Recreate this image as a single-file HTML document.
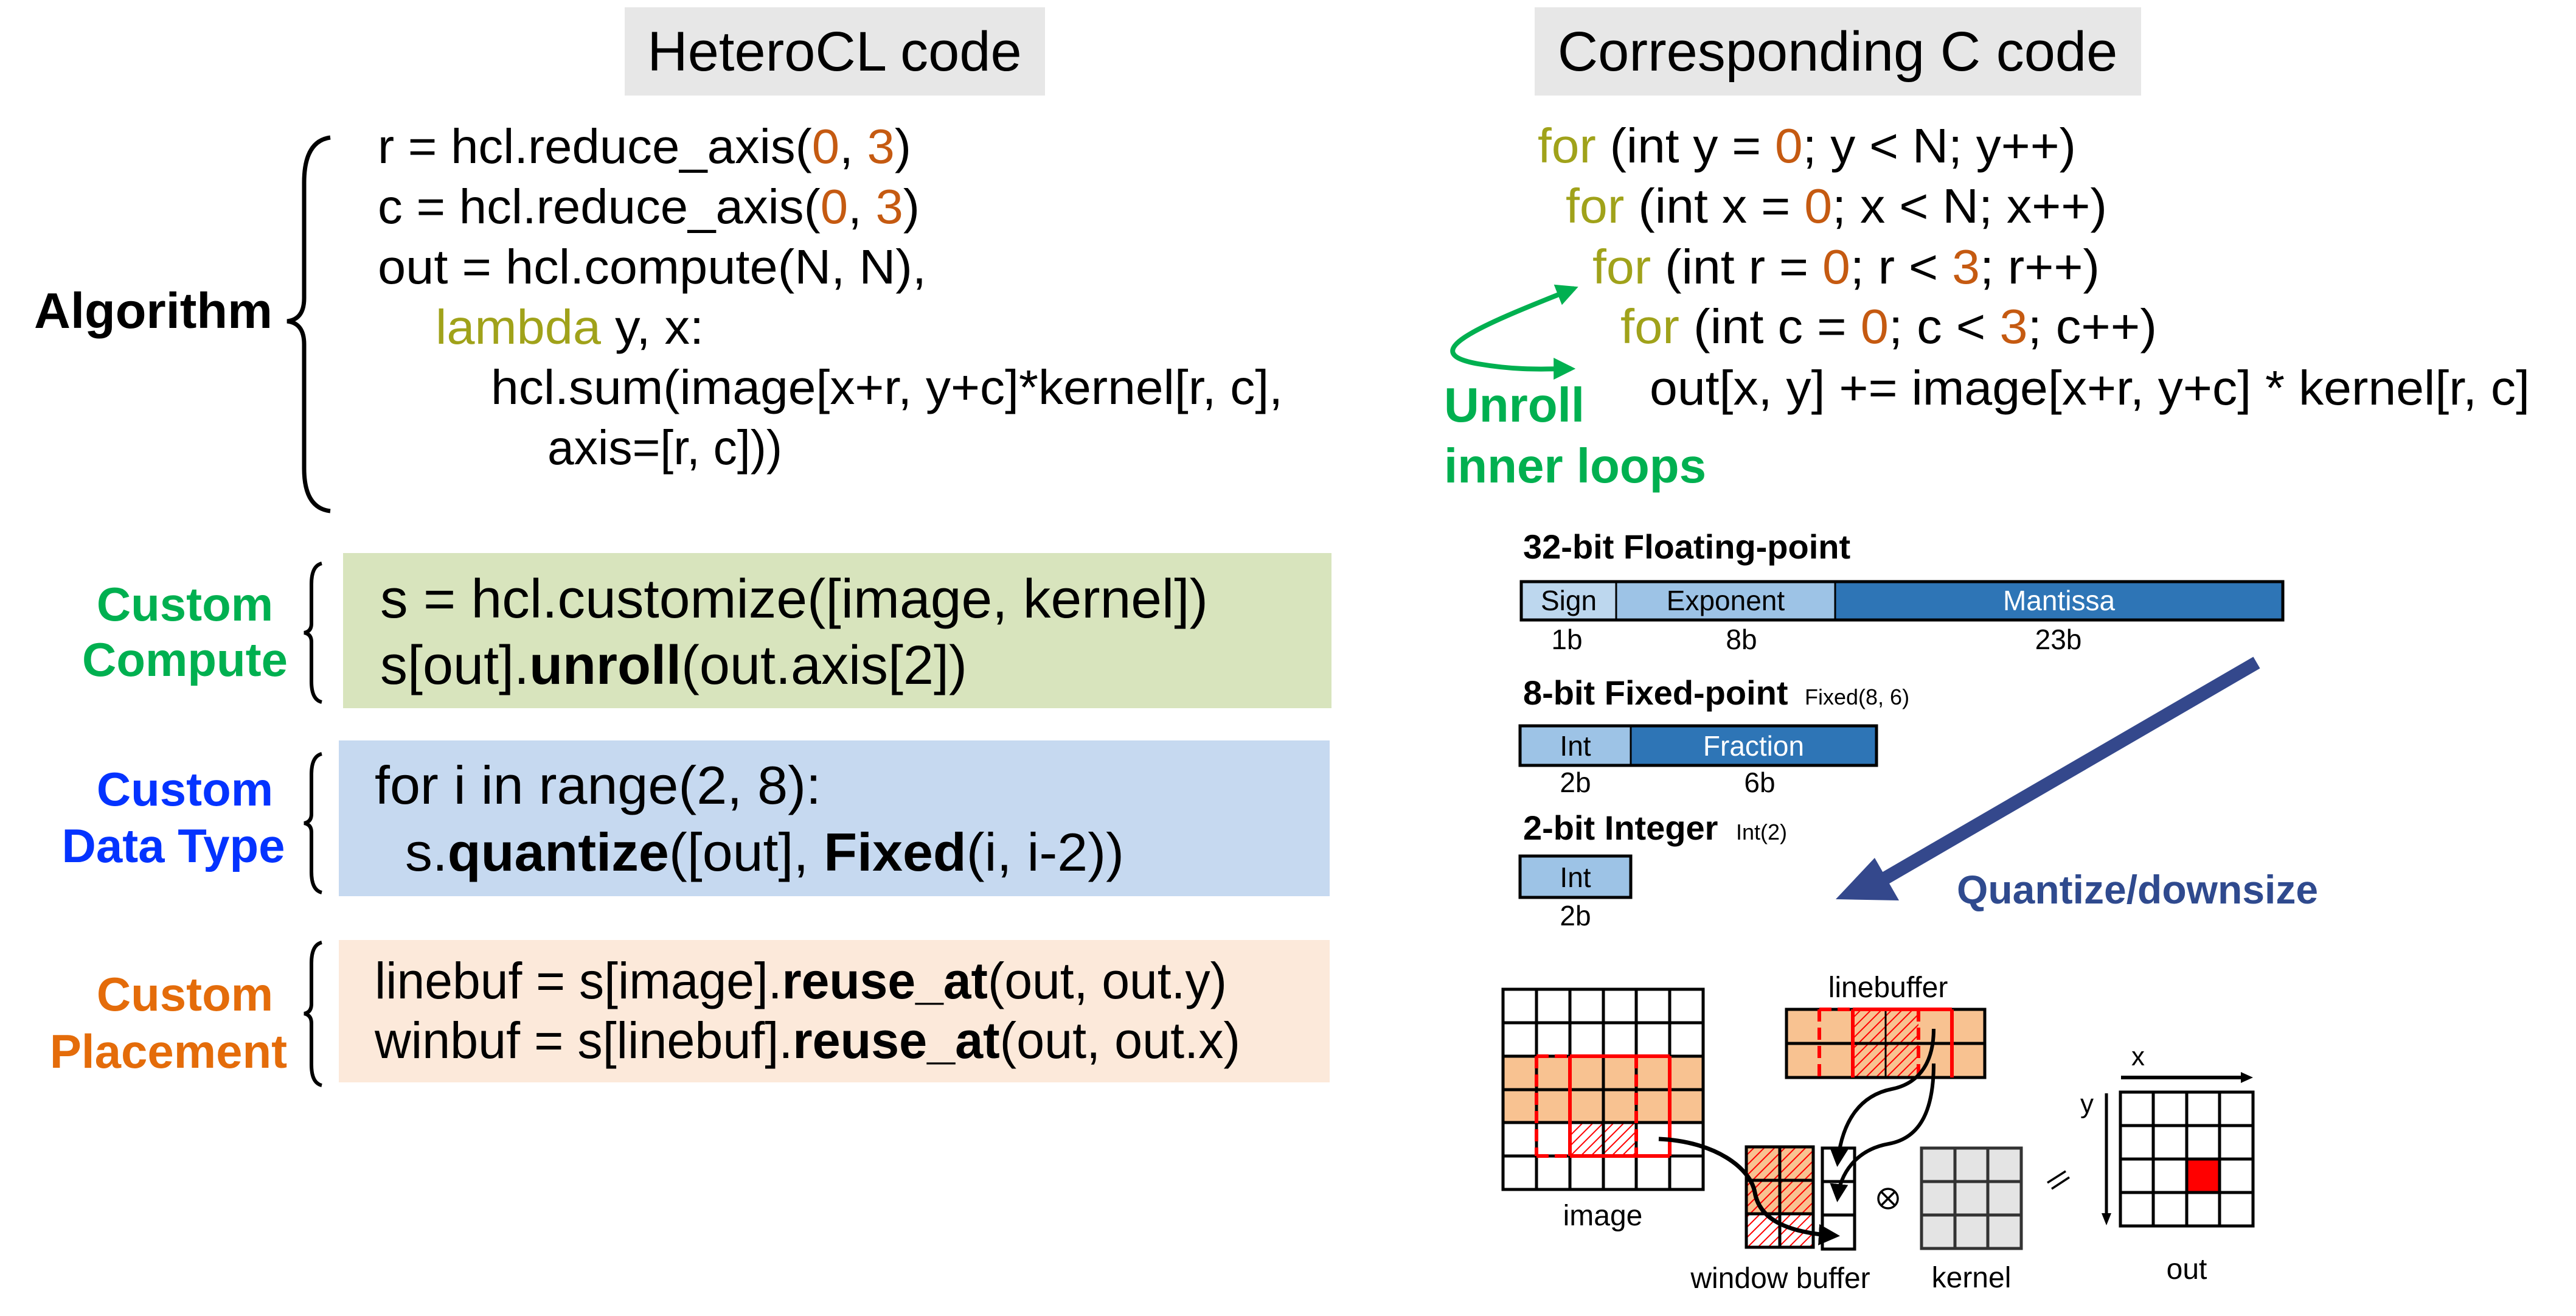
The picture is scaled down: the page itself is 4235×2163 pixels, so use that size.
<!DOCTYPE html>
<html><head><meta charset="utf-8"><style>
html,body{margin:0;padding:0;background:#fff;}
svg{display:block;}
text{font-family:"Liberation Sans",Arial,sans-serif;}
</style></head><body>
<svg width="4235" height="2163" viewBox="0 0 4235 2163" xmlns="http://www.w3.org/2000/svg">
<defs>
<pattern id="hatch" patternUnits="userSpaceOnUse" width="12" height="12" patternTransform="rotate(45)">
<rect width="12" height="12" fill="none"/>
<line x1="0" y1="0" x2="0" y2="12" stroke="#ff0000" stroke-width="4"/>
</pattern>
<marker id="ah" viewBox="0 0 10 10" refX="8" refY="5" markerWidth="5" markerHeight="5" orient="auto-start-reverse" markerUnits="strokeWidth">
<path d="M0,0 L10,5 L0,10 z" fill="#000"/>
</marker>
<marker id="gh" viewBox="0 0 10 10" refX="8" refY="5" markerWidth="4.5" markerHeight="4.5" orient="auto-start-reverse" markerUnits="strokeWidth">
<path d="M0,0 L10,5 L0,10 z" fill="#00b050"/>
</marker>
</defs>

<!-- headers -->
<rect x="1027" y="12" width="691" height="145" fill="#e7e7e7"/>
<text x="1372" y="116" font-size="92" text-anchor="middle">HeteroCL code</text>
<rect x="2523" y="12" width="997" height="145" fill="#e7e7e7"/>
<text x="3021" y="116" font-size="92" text-anchor="middle">Corresponding C code</text>

<!-- Algorithm -->
<text x="56" y="539" font-size="83" font-weight="bold">Algorithm</text>
<path d="M543,226 Q500,232 500,300 L500,490 Q500,525 472,528 Q500,531 500,566 L500,770 Q500,835 543,840" fill="none" stroke="#000" stroke-width="7"/>
<g font-size="80" xml:space="preserve" lengthAdjust="spacingAndGlyphs">
<text x="621" y="268" textLength="877" lengthAdjust="spacingAndGlyphs">r = hcl.reduce_axis(<tspan fill="#c55a11">0</tspan>, <tspan fill="#c55a11">3</tspan>)</text>
<text x="621" y="367" textLength="891" lengthAdjust="spacingAndGlyphs">c = hcl.reduce_axis(<tspan fill="#c55a11">0</tspan>, <tspan fill="#c55a11">3</tspan>)</text>
<text x="621" y="466" textLength="902" lengthAdjust="spacingAndGlyphs">out = hcl.compute(N, N),</text>
<text x="716" y="565" textLength="441" lengthAdjust="spacingAndGlyphs"><tspan fill="#a0a21a">lambda</tspan> y, x:</text>
<text x="807" y="664" textLength="1302" lengthAdjust="spacingAndGlyphs">hcl.sum(image[x+r, y+c]*kernel[r, c],</text>
<text x="900" y="763" textLength="386" lengthAdjust="spacingAndGlyphs">axis=[r, c]))</text>
</g>

<!-- Custom compute -->
<rect x="564" y="909" width="1625" height="255" fill="#d8e4bd"/>
<text x="304" y="1020" font-size="78" font-weight="bold" fill="#00b050" text-anchor="middle">Custom</text>
<text x="304" y="1111" font-size="78" font-weight="bold" fill="#00b050" text-anchor="middle">Compute</text>
<path d="M529,926 Q512,930 512,960 L512,1025 Q512,1038 500,1040 Q512,1042 512,1055 L512,1120 Q512,1150 529,1154" fill="none" stroke="#000" stroke-width="6"/>
<g font-size="90" xml:space="preserve">
<text x="625" y="1015" textLength="1361" lengthAdjust="spacingAndGlyphs">s = hcl.customize([image, kernel])</text>
<text x="625" y="1124" textLength="965" lengthAdjust="spacingAndGlyphs">s[out].<tspan font-weight="bold">unroll</tspan>(out.axis[2])</text>
</g>

<!-- Custom data type -->
<rect x="557" y="1217" width="1629" height="256" fill="#c6d9f0"/>
<text x="304" y="1324" font-size="78" font-weight="bold" fill="#0433ff" text-anchor="middle">Custom</text>
<text x="285" y="1417" font-size="78" font-weight="bold" fill="#0433ff" text-anchor="middle">Data Type</text>
<path d="M529,1239 Q512,1243 512,1273 L512,1338 Q512,1351 500,1353 Q512,1355 512,1368 L512,1433 Q512,1463 529,1467" fill="none" stroke="#000" stroke-width="6"/>
<g font-size="88" xml:space="preserve">
<text x="616" y="1321" textLength="734" lengthAdjust="spacingAndGlyphs">for i in range(2, 8):</text>
<text x="666" y="1431" textLength="1182" lengthAdjust="spacingAndGlyphs">s.<tspan font-weight="bold">quantize</tspan>([out], <tspan font-weight="bold">Fixed</tspan>(i, i-2))</text>
</g>

<!-- Custom placement -->
<rect x="557" y="1545" width="1629" height="234" fill="#fce9da"/>
<text x="304" y="1661" font-size="78" font-weight="bold" fill="#e46c0a" text-anchor="middle">Custom</text>
<text x="277" y="1755" font-size="78" font-weight="bold" fill="#e46c0a" text-anchor="middle">Placement</text>
<path d="M529,1549 Q512,1553 512,1583 L512,1650 Q512,1664 500,1666 Q512,1668 512,1682 L512,1750 Q512,1780 529,1784" fill="none" stroke="#000" stroke-width="6"/>
<g font-size="84" xml:space="preserve">
<text x="616" y="1641" textLength="1401" lengthAdjust="spacingAndGlyphs">linebuf = s[image].<tspan font-weight="bold">reuse_at</tspan>(out, out.y)</text>
<text x="616" y="1739" textLength="1423" lengthAdjust="spacingAndGlyphs">winbuf = s[linebuf].<tspan font-weight="bold">reuse_at</tspan>(out, out.x)</text>
</g>

<!-- C code -->
<g font-size="80" xml:space="preserve">
<text x="2528" y="267" textLength="885" lengthAdjust="spacingAndGlyphs"><tspan fill="#a0a21a">for</tspan> (int y = <tspan fill="#c55a11">0</tspan>; y &lt; N; y++)</text>
<text x="2574" y="366" textLength="890" lengthAdjust="spacingAndGlyphs"><tspan fill="#a0a21a">for</tspan> (int x = <tspan fill="#c55a11">0</tspan>; x &lt; N; x++)</text>
<text x="2618" y="466" textLength="834" lengthAdjust="spacingAndGlyphs"><tspan fill="#a0a21a">for</tspan> (int r = <tspan fill="#c55a11">0</tspan>; r &lt; <tspan fill="#c55a11">3</tspan>; r++)</text>
<text x="2664" y="564" textLength="882" lengthAdjust="spacingAndGlyphs"><tspan fill="#a0a21a">for</tspan> (int c = <tspan fill="#c55a11">0</tspan>; c &lt; <tspan fill="#c55a11">3</tspan>; c++)</text>
<text x="2712" y="665" textLength="1447" lengthAdjust="spacingAndGlyphs">out[x, y] += image[x+r, y+c] * kernel[r, c]</text>
</g>
<text x="2374" y="693" font-size="80" font-weight="bold" fill="#00b050">Unroll</text>
<text x="2374" y="793" font-size="80" font-weight="bold" fill="#00b050">inner loops</text>
<path d="M2588,474 C2420,540 2330,580 2430,598 C2500,610 2545,606 2583,606" fill="none" stroke="#00b050" stroke-width="8" marker-start="url(#gh)" marker-end="url(#gh)"/>

<!-- bit formats -->
<text x="2504" y="918" font-size="56" font-weight="bold">32-bit Floating-point</text>
<rect x="2501" y="956" width="156" height="63" fill="#bdd7ee"/>
<rect x="2657" y="956" width="360" height="63" fill="#9dc3e6"/>
<rect x="3017" y="956" width="736" height="63" fill="#2e75b6"/>
<rect x="2501" y="956" width="1252" height="63" fill="none" stroke="#000" stroke-width="5"/>
<line x1="2657" y1="956" x2="2657" y2="1019" stroke="#000" stroke-width="3"/>
<line x1="3017" y1="956" x2="3017" y2="1019" stroke="#000" stroke-width="3"/>
<g font-size="46" text-anchor="middle">
<text x="2579" y="1003">Sign</text>
<text x="2837" y="1003">Exponent</text>
<text x="3385" y="1003" fill="#fff">Mantissa</text>
<text x="2576" y="1067">1b</text>
<text x="2863" y="1067">8b</text>
<text x="3384" y="1067">23b</text>
</g>
<text x="2504" y="1158" font-size="56" font-weight="bold">8-bit Fixed-point</text>
<text x="2967" y="1158" font-size="36">Fixed(8, 6)</text>
<rect x="2499" y="1193" width="182" height="65" fill="#9dc3e6"/>
<rect x="2681" y="1193" width="404" height="65" fill="#2e75b6"/>
<rect x="2499" y="1193" width="586" height="65" fill="none" stroke="#000" stroke-width="5"/>
<line x1="2681" y1="1193" x2="2681" y2="1258" stroke="#000" stroke-width="3"/>
<g font-size="46" text-anchor="middle">
<text x="2590" y="1242">Int</text>
<text x="2883" y="1242" fill="#fff">Fraction</text>
<text x="2590" y="1302">2b</text>
<text x="2893" y="1302">6b</text>
</g>
<text x="2504" y="1380" font-size="56" font-weight="bold">2-bit Integer</text>
<text x="2854" y="1380" font-size="36">Int(2)</text>
<rect x="2499" y="1407" width="182" height="68" fill="#9dc3e6" stroke="#000" stroke-width="5"/>
<text x="2590" y="1458" font-size="46" text-anchor="middle">Int</text>
<text x="2590" y="1521" font-size="46" text-anchor="middle">2b</text>

<!-- quantize arrow -->
<line x1="3710" y1="1089" x2="3100" y2="1443" stroke="#34488c" stroke-width="22"/>
<polygon points="3018,1478 3122,1480 3082,1410" fill="#34488c"/>
<text x="3217" y="1485" font-size="66" font-weight="bold" fill="#2f4a8e">Quantize/downsize</text>

<!-- image grid -->
<rect x="2471" y="1736" width="329" height="109" fill="#f8c291"/>
<rect x="2581" y="1845" width="109" height="55" fill="url(#hatch)"/>
<g stroke="#000" stroke-width="5" fill="none">
<rect x="2471" y="1626" width="329" height="329"/>
<line x1="2526" y1="1626" x2="2526" y2="1955"/><line x1="2581" y1="1626" x2="2581" y2="1955"/>
<line x1="2636" y1="1626" x2="2636" y2="1955"/><line x1="2690" y1="1626" x2="2690" y2="1955"/>
<line x1="2745" y1="1626" x2="2745" y2="1955"/>
<line x1="2471" y1="1681" x2="2800" y2="1681"/><line x1="2471" y1="1736" x2="2800" y2="1736"/>
<line x1="2471" y1="1791" x2="2800" y2="1791"/><line x1="2471" y1="1845" x2="2800" y2="1845"/>
<line x1="2471" y1="1900" x2="2800" y2="1900"/>
</g>
<g stroke="#ff0000" stroke-width="6" fill="none">
<line x1="2526" y1="1736" x2="2581" y2="1736" stroke-dasharray="20,10"/>
<line x1="2526" y1="1900" x2="2581" y2="1900" stroke-dasharray="20,10"/>
<line x1="2581" y1="1736" x2="2745" y2="1736"/>
<line x1="2581" y1="1900" x2="2745" y2="1900"/>
<line x1="2526" y1="1736" x2="2526" y2="1900" stroke-dasharray="20,10"/>
<line x1="2690" y1="1736" x2="2690" y2="1900" stroke-dasharray="20,10"/>
<line x1="2581" y1="1736" x2="2581" y2="1900"/>
<line x1="2745" y1="1736" x2="2745" y2="1900"/>
</g>
<text x="2635" y="2014" font-size="48" text-anchor="middle">image</text>

<!-- linebuffer -->
<rect x="2937" y="1659" width="326" height="112" fill="#f8c291"/>
<rect x="3046" y="1659" width="108" height="112" fill="url(#hatch)"/>
<g stroke="#000" stroke-width="5" fill="none">
<rect x="2937" y="1659" width="326" height="112"/>
<line x1="2937" y1="1715" x2="3263" y2="1715"/>
<line x1="3100" y1="1659" x2="3100" y2="1771" stroke-width="3"/>
</g>
<g stroke="#ff0000" stroke-width="6" fill="none">
<line x1="2991" y1="1659" x2="3046" y2="1659" stroke-dasharray="20,10"/>
<line x1="3046" y1="1659" x2="3209" y2="1659"/>
<line x1="2991" y1="1659" x2="2991" y2="1771" stroke-dasharray="20,10"/>
<line x1="3154" y1="1659" x2="3154" y2="1771" stroke-dasharray="20,10"/>
<line x1="3046" y1="1659" x2="3046" y2="1771"/>
<line x1="3209" y1="1659" x2="3209" y2="1771"/>
</g>
<text x="3104" y="1639" font-size="48" text-anchor="middle">linebuffer</text>

<!-- window buffer -->
<rect x="2871" y="1885" width="110" height="110" fill="#f8c291"/>
<rect x="2871" y="1885" width="110" height="165" fill="url(#hatch)"/>
<g stroke="#000" stroke-width="5" fill="none">
<rect x="2871" y="1885" width="110" height="165"/>
<line x1="2926" y1="1885" x2="2926" y2="2050"/>
<line x1="2871" y1="1940" x2="2981" y2="1940"/>
<line x1="2871" y1="1995" x2="2981" y2="1995"/>
<rect x="2996" y="1887" width="53" height="166"/>
<line x1="2996" y1="1942" x2="3049" y2="1942"/>
<line x1="2996" y1="1997" x2="3049" y2="1997"/>
</g>
<text x="2927" y="2117" font-size="48" text-anchor="middle">window buffer</text>

<!-- arrows -->
<g stroke="#000" stroke-width="7" fill="none">
<path d="M2727,1872 C2820,1876 2878,1920 2885,1960 C2892,2000 2930,2026 3018,2031" marker-end="url(#ah)"/>
<path d="M3179,1691 C3179,1740 3160,1780 3110,1790 C3060,1800 3028,1840 3021,1912" marker-end="url(#ah)" stroke-width="6"/>
<path d="M3179,1748 C3179,1820 3160,1870 3105,1880 C3050,1890 3025,1930 3021,1970" marker-end="url(#ah)" stroke-width="6"/>
</g>

<!-- otimes -->
<circle cx="3104" cy="1970" r="16" fill="none" stroke="#000" stroke-width="3.5"/>
<line x1="3093" y1="1959" x2="3115" y2="1981" stroke="#000" stroke-width="3.5"/>
<line x1="3115" y1="1959" x2="3093" y2="1981" stroke="#000" stroke-width="3.5"/>

<!-- kernel -->
<rect x="3159" y="1887" width="164" height="165" fill="#e4e4e4"/>
<g stroke="#333" stroke-width="5" fill="none">
<rect x="3159" y="1887" width="164" height="165"/>
<line x1="3214" y1="1887" x2="3214" y2="2052"/><line x1="3268" y1="1887" x2="3268" y2="2052"/>
<line x1="3159" y1="1942" x2="3323" y2="1942"/><line x1="3159" y1="1997" x2="3323" y2="1997"/>
</g>
<text x="3241" y="2116" font-size="48" text-anchor="middle">kernel</text>

<!-- equals -->
<line x1="3366" y1="1944" x2="3396" y2="1925" stroke="#000" stroke-width="3.5"/>
<line x1="3373" y1="1954" x2="3402" y2="1935" stroke="#000" stroke-width="3.5"/>

<!-- out -->
<rect x="3595" y="1905" width="54" height="55" fill="#ff0000"/>
<g stroke="#000" stroke-width="5" fill="none">
<rect x="3486" y="1795" width="218" height="220"/>
<line x1="3540" y1="1795" x2="3540" y2="2015"/><line x1="3595" y1="1795" x2="3595" y2="2015"/>
<line x1="3649" y1="1795" x2="3649" y2="2015"/>
<line x1="3486" y1="1850" x2="3704" y2="1850"/><line x1="3486" y1="1905" x2="3704" y2="1905"/>
<line x1="3486" y1="1960" x2="3704" y2="1960"/>
</g>
<line x1="3487" y1="1771" x2="3690" y2="1771" stroke="#000" stroke-width="6"/>
<polygon points="3704,1771 3684,1762 3684,1780" fill="#000"/>
<line x1="3463" y1="1797" x2="3463" y2="2000" stroke="#000" stroke-width="5"/>
<polygon points="3463,2014 3455,1994 3471,1994" fill="#000"/>
<text x="3515" y="1751" font-size="44" text-anchor="middle">x</text>
<text x="3431" y="1829" font-size="44" text-anchor="middle">y</text>
<text x="3595" y="2102" font-size="48" text-anchor="middle">out</text>
</svg>
</body></html>
